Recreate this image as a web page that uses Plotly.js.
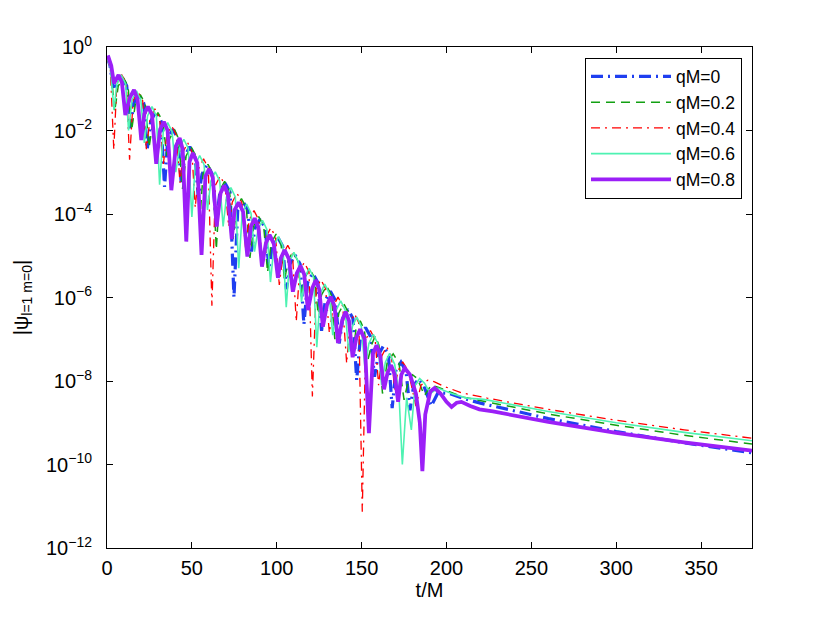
<!DOCTYPE html>
<html><head><meta charset="utf-8">
<script src="https://cdn.plot.ly/plotly-3.0.1.min.js"></script>
<style>html,body{margin:0;padding:0;background:#fff}#chart{width:830px;height:619px}</style>
</head><body><div id="chart"></div>
<script>
// Values: t/M and log10|psi|
var t_qM0 = [0,1.8,3.5,
 5.6,8.6,11.6,13.8, 15.7,18.7,21.7,23.7, 25.8,28.8,31.8,33.9, 35.8,38.8,41.8,43.8,
 45.8,48.8,51.8,53.8, 56,59,62,64.3, 66.5,69.5,72.5,74.8, 77,80,83,85.1,
 87.2,90.2,93.2,95.4, 97.5,100.5,103.5,105.7, 107.8,110.8,113.8,116, 118.2,121.2,124.2,126.4,
 128.6,131.6,134.6,136.8, 138.9,141.9,144.9,147.1, 149.3,152.3,155.3,157.6, 159.8,162.8,165.8,168,
 170.2,173.2,176.2,178.5, 180.7,183.7,186.5,191,
 195,202,210,220,260,300,340,380];
var logpsi_qM0 = [-0.22,-0.45,-0.95,
 -0.93,-0.71,-0.93,-1.95, -1.35,-1.13,-1.35,-2.45, -1.77,-1.55,-1.77,-3.35, -2.19,-1.97,-2.19,-3.3,
 -2.61,-2.39,-2.61,-3.6, -3.04,-2.82,-3.04,-4.2, -3.48,-3.26,-3.48,-6.0, -3.91,-3.69,-3.91,-4.9,
 -4.34,-4.12,-4.34,-5.3, -4.77,-4.55,-4.77,-5.8, -5.2,-4.98,-5.2,-6.65, -5.64,-5.42,-5.64,-6.8,
 -6.07,-5.85,-6.07,-7.1, -6.5,-6.28,-6.5,-7.98, -6.94,-6.72,-6.94,-7.9, -7.38,-7.16,-7.38,-8.65,
 -7.75,-7.55,-7.77,-8.7, -8.1,-7.95,-8.1,-8.6,
 -8.28,-8.3,-8.42,-8.53,-8.90,-9.21,-9.48,-9.72];

var t_qM02 = [0,2.2,4.5,
 6.6,9.5,12.4,14.5, 16.7,19.6,22.5,24.8, 27.1,30.0,32.9,35.2, 36.9,39.8,42.2,44.5,
 46.6,49.5,52.4,54.6, 56.6,59.5,62.3,64.4, 66.4,69.3,72.2,74.3, 76.3,79.2,82.1,84.2,
 86.5,89.4,92.3,94.6, 96.7,99.6,102.5,104.6, 106.6,109.5,112.4,114.5, 116.5,119.4,122.3,124.4,
 126.4,129.3,132.2,134.2, 136.6,139.5,142.4,144.8, 146.6,149.2,151.6,153.7, 155.8,158,160.2,162.3,
 165,168.6,172,175, 177.5,180,183,187,
 191,195,202,210,260,300,340,380];
var logpsi_qM02 = [-0.24,-0.5,-1.55,
 -0.94,-0.72,-0.94,-2.0, -1.36,-1.14,-1.36,-2.4, -1.79,-1.57,-1.79,-2.6, -2.2,-1.98,-2.2,-3.4,
 -2.61,-2.39,-2.61,-4.2, -3.03,-2.81,-3.03,-4.85, -3.44,-3.22,-3.44,-4.6, -3.85,-3.63,-3.85,-5.05,
 -4.28,-4.06,-4.28,-5.4, -4.7,-4.48,-4.7,-5.6, -5.12,-4.9,-5.12,-5.95, -5.53,-5.31,-5.53,-6.4,
 -5.94,-5.72,-5.94,-7.0, -6.37,-6.15,-6.37,-7.45, -6.78,-6.56,-6.78,-7.5, -7.14,-6.92,-7.14,-8.3,
 -7.57,-7.35,-7.57,-8.45, -8.0,-7.85,-7.95,-8.35,
 -8.1,-8.15,-8.27,-8.39,-8.79,-9.06,-9.30,-9.51];

var t_qM04 = [0,2.0,4.0,
 5.8,8.6,11.4,13.3, 15.4,18.2,21.0,23.2, 25.4,28.2,31.0,33.2, 35.3,38.1,40.9,43.0,
 44.9,47.5,50.0,52.0, 54.1,56.9,59.7,61.8, 63.9,66.7,69.5,71.7, 73.8,76.6,79.4,81.6,
 83.8,86.6,89.4,91.6, 93.7,96.5,99.3,101.5, 103.7,106.5,109.3,111.5, 113.4,116.2,119.0,121.0,
 123.2,126.0,128.8,131.0, 133.3,136.1,138.9,141.2, 143.1,145.8,148.4,150.4, 152.4,155.2,158.0,160.0,
 161.9,164.7,167.5,169.5, 171.4,174.2,177.5,182.0,
 185,189,193,198,208.6,224,260,300,340,380];
var logpsi_qM04 = [-0.22,-0.55,-2.46,
 -0.88,-0.66,-0.88,-2.7, -1.28,-1.06,-1.28,-2.45, -1.7,-1.48,-1.7,-2.8, -2.11,-1.89,-2.11,-3.25,
 -2.51,-2.29,-2.51,-3.85, -2.9,-2.68,-2.9,-6.2, -3.31,-3.09,-3.31,-4.3, -3.72,-3.5,-3.72,-4.8,
 -4.14,-3.92,-4.14,-5.2, -4.55,-4.33,-4.55,-5.7, -4.97,-4.75,-4.97,-6.58, -5.38,-5.16,-5.38,-8.37,
 -5.79,-5.57,-5.79,-6.85, -6.21,-5.99,-6.21,-7.58, -6.61,-6.39,-6.61,-11.13, -7.01,-6.79,-7.01,-8.1,
 -7.4,-7.18,-7.4,-8.2, -7.76,-7.54,-7.76,-8.6,
 -8.1,-7.98,-8.02,-8.12,-8.28,-8.41,-8.68,-8.94,-9.17,-9.37];

var t_qM06 = [0,2.0,4.1,
 5.8,8.4,11.0,12.7, 14.75,17.35,19.95,22.0, 23.9,26.5,29.1,31.0, 33.15,35.75,38.35,40.5,
 42.65,45.25,47.85,50.0, 52.0,54.6,57.2,59.2, 61.2,63.8,66.4,68.4, 70.4,73.0,75.6,77.6,
 79.65,82.25,84.85,86.9, 89.0,91.6,94.2,96.3, 98.4,101.0,103.6,105.6, 107.5,110.1,112.7,114.6,
 116.5,119.1,121.7,123.6, 125.7,128.3,130.9,133.0, 135.1,137.7,140.3,142.4, 144.6,147.2,149.8,152.0,
 154.3,156.9,159.5,161.8,
 164,166.5,169.5,172,174,176.5,179.3,181.5,184.2,187,190.5,195,203,212,222,260,300,340,380];
var logpsi_qM06 = [-0.25,-0.5,-1.5,
 -0.89,-0.67,-0.89,-2.0, -1.27,-1.05,-1.27,-2.3, -1.65,-1.43,-1.65,-3.3, -2.03,-1.81,-2.03,-3.0,
 -2.43,-2.21,-2.43,-4.07, -2.82,-2.6,-2.82,-3.9, -3.21,-2.99,-3.21,-4.3, -3.59,-3.37,-3.59,-5.3,
 -3.98,-3.76,-3.98,-4.9, -4.37,-4.15,-4.37,-5.63, -4.76,-4.54,-4.76,-6.23, -5.14,-4.92,-5.14,-6.1,
 -5.52,-5.3,-5.52,-7.19, -5.9,-5.68,-5.9,-6.9, -6.3,-6.08,-6.3,-7.3, -6.69,-6.47,-6.69,-7.7,
 -7.1,-6.88,-7.1,-8.1,
 -7.55,-7.34,-7.6,-8.3,-10.0,-8.4,-9.17,-8.1,-7.94,-8.05,-8.3,-8.17,-8.3,-8.41,-8.44,-8.73,-9.0,-9.23,-9.43];

var t_qM08 = [0.5,2.5,4.1,6.8,8.8,10.8,
 13.6,15.9,18.0,20.2, 22.0,24.1,26.5,29.0, 31.3,33.5,35.7,37.9, 40.6,42.8,44.6,46.7,
 48.6,50.6,53.2,55.7, 58.0,60.2,62.3,64.6, 66.9,69.0,71.2,73.5, 75.2,77.6,80.2,82.7,
 84.8,87.0,89.2,91.3, 93.6,95.8,98.3,100.7, 102.4,104.6,107.2,109.5, 111.8,114.0,116.2,118.4,
 120.9,123.0,125.0,127.2, 129.6,131.8,134.0,136.1, 138.6,140.6,142.6,144.7, 147.0,149.2,151.8,154.3,
 156.7,158.8,161.0,163.2, 165.3,167.4,169.5,171.5,
 173.4,175.4,178.5,182.0,184.3,185.8,
 187.5,190.5,193.0,196.5,200,203,206,208.8,214,219.4,227.4,260,300,340,380];
var logpsi_qM08 = [-0.2,-0.45,-0.87,-0.67,-0.85,-1.63,
 -1.2,-1.03,-1.25,-2.23, -1.6,-1.43,-1.62,-2.8, -1.97,-1.79,-2.0,-3.43, -2.37,-2.18,-2.45,-4.66,
 -2.75,-2.54,-2.78,-4.98, -3.1,-2.92,-3.12,-4.3, -3.5,-3.32,-3.52,-4.6, -3.9,-3.72,-3.95,-5.02,
 -4.3,-4.1,-4.32,-5.26, -4.7,-4.5,-4.72,-5.53, -5.06,-4.86,-5.08,-5.86, -5.42,-5.24,-5.45,-6.3,
 -5.78,-5.58,-5.8,-6.7, -6.18,-5.98,-6.2,-7.09, -6.54,-6.34,-6.56,-7.43, -6.95,-6.76,-7.0,-9.25,
 -7.35,-7.14,-7.4,-8.2, -7.8,-7.62,-7.85,-8.5,
 -7.85,-7.69,-7.85,-8.3,-9.0,-10.16,
 -8.8,-8.25,-8.17,-8.3,-8.5,-8.62,-8.52,-8.5,-8.6,-8.68,-8.73,-8.98,-9.24,-9.47,-9.67];

var seriesNames = ['qM=0','qM=0.2','qM=0.4','qM=0.6','qM=0.8'];
var yTickVals = [1e-12,1e-10,1e-8,1e-6,1e-4,1e-2,1];
var yTickText = ['10<sup>\u221212</sup>','10<sup>\u221210</sup>','10<sup>\u22128</sup>','10<sup>\u22126</sup>','10<sup>\u22124</sup>','10<sup>\u22122</sup>','10<sup>0</sup>'];

function pow10(a){ return a.map(function(v){ return Math.pow(10, v); }); }

var tArr = [t_qM0, t_qM02, t_qM04, t_qM06, t_qM08];
var lArr = [logpsi_qM0, logpsi_qM02, logpsi_qM04, logpsi_qM06, logpsi_qM08];
var styles = [
  {color:'#1f3ff0', width:3.2, dash:'12px,5px,2px,5px'},
  {color:'#12a012', width:1.5, dash:'9px,6px'},
  {color:'#ff0000', width:1.3, dash:'9px,5px,2px,5px'},
  {color:'#4ef2b2', width:1.6, dash:'solid'},
  {color:'#9b1ff7', width:3.8, dash:'solid'}
];
var traces = seriesNames.map(function(n,i){
  return {x:tArr[i], y:pow10(lArr[i]), name:n, type:'scatter', mode:'lines',
          line:{color:styles[i].color, width:styles[i].width, dash:styles[i].dash}};
});

var fam = '"Liberation Sans", Arial, Helvetica, sans-serif';
var fnt = {family:fam, size:20, color:'#000'};
var layout = {
  width:830, height:619,
  margin:{l:107, r:78, t:47, b:71},
  paper_bgcolor:'#fff', plot_bgcolor:'#fff',
  font:fnt,
  showlegend:true,
  xaxis:{range:[0,380], dtick:50, tick0:0, ticks:'inside', ticklen:6, tickcolor:'#000',
         showline:true, linecolor:'#000', linewidth:1, mirror:'ticks', showgrid:false, zeroline:false,
         title:{text:'t/M', font:fnt, standoff:0}, tickfont:fnt, ticklabelstandoff:2},
  yaxis:{type:'log', range:[-12,0], tickvals:yTickVals, ticktext:yTickText,
         ticks:'inside', ticklen:6, tickcolor:'#000',
         showline:true, linecolor:'#000', linewidth:1, mirror:'ticks', showgrid:false, zeroline:false,
         title:{text:'|\u03c8<sub>l=1 m=0</sub>|', font:fnt, standoff:12}, tickfont:fnt, ticklabelstandoff:10},
  legend:{x:0.9845, xanchor:'right', y:0.979, yanchor:'top', bgcolor:'#fff', bordercolor:'#000',
          borderwidth:1, font:{family:fam, size:17.5, color:'#000'}, itemwidth:80, tracegroupgap:0}
};
Plotly.newPlot('chart', traces, layout, {staticPlot:true, displayModeBar:false});
</script></body></html>
